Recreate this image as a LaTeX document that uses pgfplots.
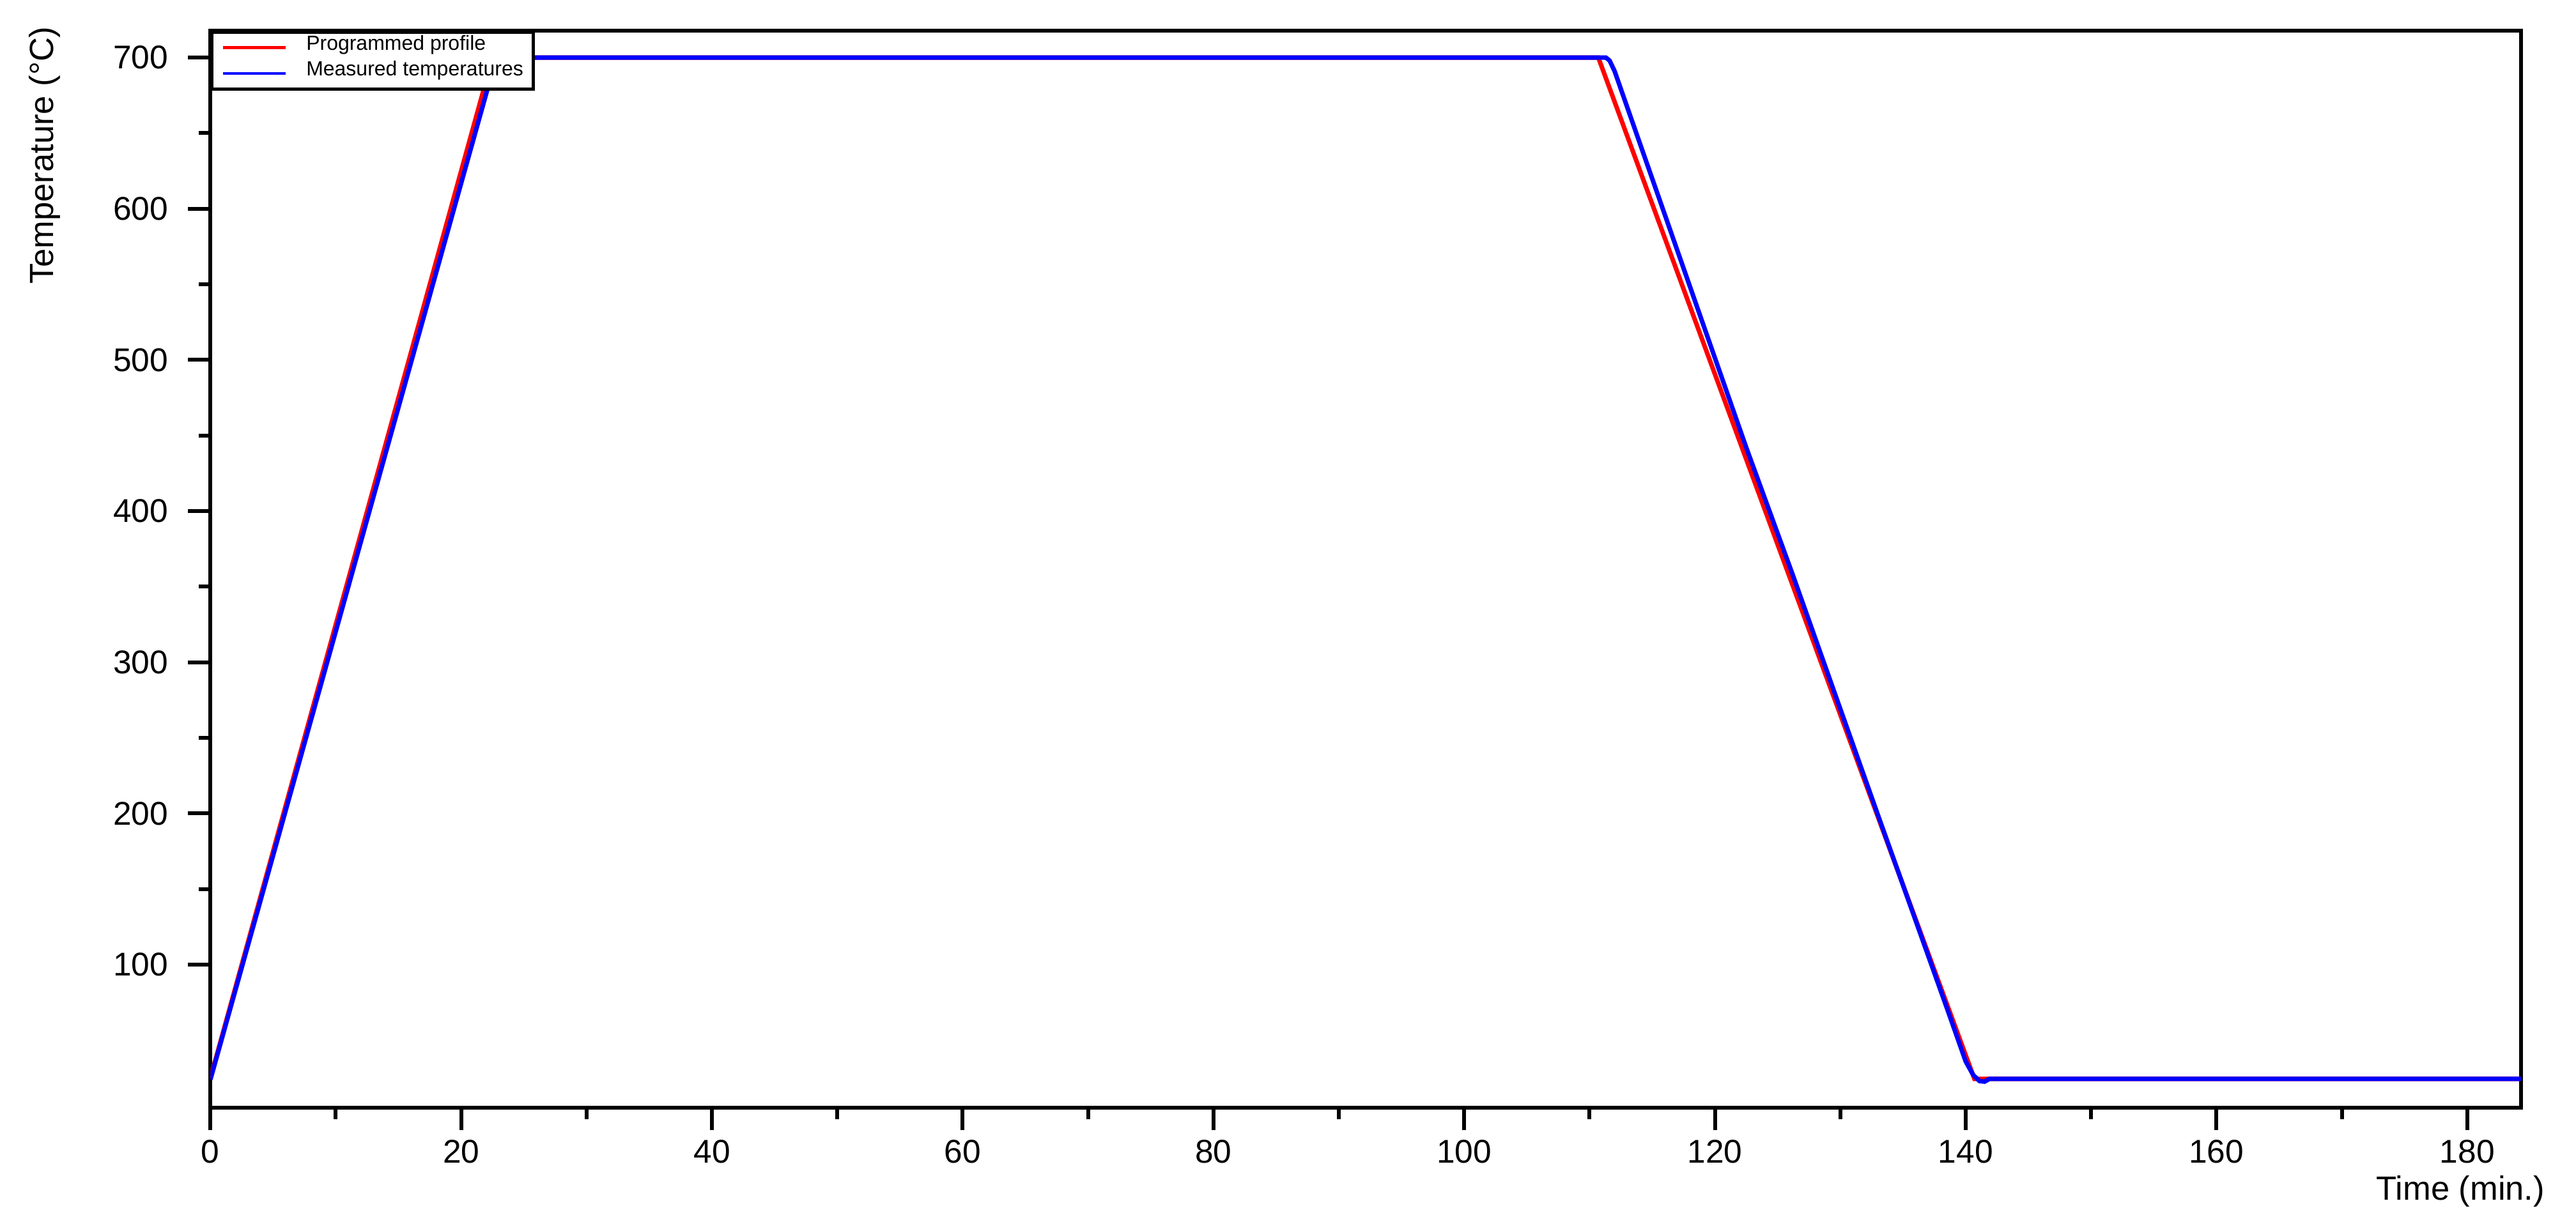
\documentclass[border=0pt]{standalone}
\usepackage{fontspec}
\setmainfont{Liberation Sans}
\usepackage{pgfplots}
\pgfplotsset{compat=1.18}

% furnace programme vs. thermocouple reading
\pgfplotstableread{
t T
0 25
22.5 700
110.7 700
140.7 24.4
184.3 24.4
}\programmed

\pgfplotstableread{
t T
0 24
22.6 694
22.9 700
111.3 700
111.6 698
112.0 691
122.5 442
126.2 358
133.0 199
138.6 69
140.0 36
140.6 27
141.1 23
141.5 22.6
141.9 24.4
184.3 24.4
}\measured

\begin{document}
\begin{tikzpicture}
\useasboundingbox (-32.93pt,-19.3pt) rectangle (370.2pt,173.4pt);
\begin{axis}[
    at={(0,0)}, anchor=south west,
    scale only axis,
    width=361.6pt, height=168.65pt,
    xmin=0, xmax=184.3,
    ymin=5.4, ymax=718,
    xtick={0,20,...,180},
    ytick={100,200,...,700},
    minor x tick num=1,
    minor y tick num=1,
    tick pos=left,
    tick align=outside,
    major tick length=3.5pt,
    minor tick length=1.8pt,
    axis line style={line width=0.6pt},
    every tick/.style={line width=0.6pt, black},
    /pgf/number format/assume math mode=true,
    ticklabel style={font=\fontsize{5.15}{6}\selectfont},
    xticklabel style={inner sep=0pt, anchor=north, yshift=-1.4pt},
    yticklabel style={inner sep=0pt, anchor=east, xshift=-2.9pt},
    xlabel={Time (min.)},
    ylabel={Temperature (°C)},
    label style={font=\fontsize{5.25}{6}\selectfont, inner sep=0pt},
    xlabel style={at={([xshift=3.9pt,yshift=-14.5pt]axis description cs:1,0)}, anchor=base east},
    ylabel style={at={([xshift=-23.3pt,yshift=0.8pt]axis description cs:0,1)}, anchor=south east},
    legend style={at={(axis description cs:0,1)}, anchor=north west,
        draw=black, line width=0.5pt, fill=white,
        font=\fontsize{3.2}{3.9}\selectfont,
        inner xsep=1.5pt, inner ysep=0.45pt,
        nodes={inner sep=0.1pt}, column sep=2.9pt, row sep=0pt},
    legend cell align=left,
    legend image code/.code={\draw[#1, line width=0.45pt] (0pt,0pt) -- (9.8pt,0pt);},
]
\addplot[red, line width=0.7pt] table[x=t, y=T] {\programmed};
\addlegendentry{Programmed profile}
\addplot[blue, line width=0.7pt] table[x=t, y=T] {\measured};
\addlegendentry{Measured temperatures}
\end{axis}
\end{tikzpicture}
\end{document}
